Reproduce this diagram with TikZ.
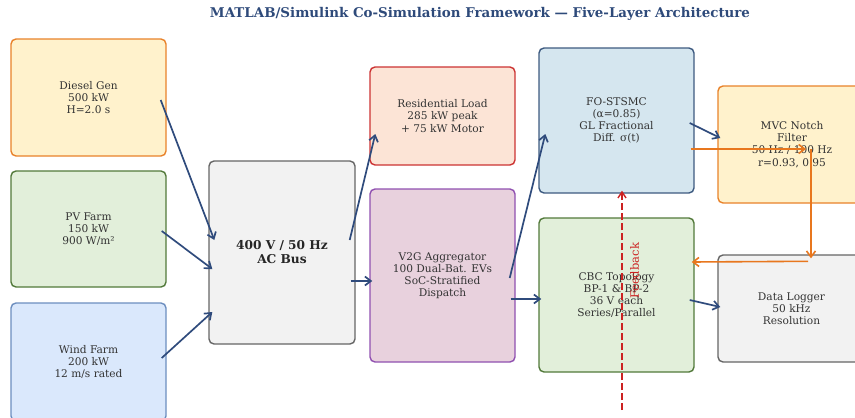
\documentclass[tikz,border=0pt]{standalone}
\usepackage{fontspec}
\setmainfont{DejaVu Serif}
\usetikzlibrary{arrows.meta,calc}

\definecolor{navy}{HTML}{2F4B7C}
\definecolor{titlecol}{HTML}{2E4A7A}
\definecolor{txt}{HTML}{333333}
\definecolor{orgline}{HTML}{E8822A}
\definecolor{orgfill}{HTML}{FFF2CC}
\definecolor{grnline}{HTML}{52793A}
\definecolor{grnfill}{HTML}{E2EFDA}
\definecolor{bluline}{HTML}{6C8EBF}
\definecolor{blufill}{HTML}{DAE8FC}
\definecolor{gryline}{HTML}{666666}
\definecolor{gryfill}{HTML}{F2F2F2}
\definecolor{redline}{HTML}{CC3333}
\definecolor{redfill}{HTML}{FCE4D6}
\definecolor{purline}{HTML}{9050B0}
\definecolor{purfill}{HTML}{E8D1DD}
\definecolor{ctlline}{HTML}{3D5A80}
\definecolor{ctlfill}{HTML}{D5E6EF}
\definecolor{orgarrow}{HTML}{E8771E}
\definecolor{fbred}{HTML}{CC2222}

\tikzset{
  block/.style={draw, rounded corners=5pt, line width=1.4pt, align=center,
    text=txt, font=\fontsize{10.6}{12.2}\selectfont, inner sep=0pt},
  flow/.style={draw=navy, line width=1.7pt, -{Straight Barb[length=6pt,width=9pt]}},
  sigflow/.style={draw=orgarrow, line width=1.6pt, -{Straight Barb[length=6pt,width=9pt]}},
  fbflow/.style={draw=fbred, line width=1.4pt, dash pattern=on 7pt off 3pt,
    -{Straight Barb[length=6pt,width=8pt]}},
}

\begin{document}
\begin{tikzpicture}[x=1pt,y=-1pt]
\useasboundingbox (0,0) rectangle (855,418);
\begin{scope}
\clip (0,0) rectangle (855,418);

% title
\node[text=titlecol, font=\fontsize{13.4}{16}\selectfont\bfseries] (title) at (480,14)
  {MATLAB/Simulink Co-Simulation Framework — Five-Layer Architecture};

% generation layer
\node[block, draw=orgline, fill=orgfill, minimum width=155pt, minimum height=117pt] (diesel) at (88.5,97.5)
  {Diesel Gen\\500 kW\\H=2.0 s};
\node[block, draw=grnline, fill=grnfill, minimum width=155pt, minimum height=116pt] (pv) at (88.5,229)
  {PV Farm\\150 kW\\900 W/m²};
\node[block, draw=bluline, fill=blufill, minimum width=155pt, minimum height=118pt] (wind) at (88.5,362)
  {Wind Farm\\200 kW\\12 m/s rated};

% bus
\node[block, draw=gryline, fill=gryfill, minimum width=146pt, minimum height=183pt,
  font=\fontsize{12.2}{14}\selectfont\bfseries, text=black!85] (bus) at (282,252.5)
  {400 V / 50 Hz\\AC Bus};

% loads and aggregator
\node[block, draw=redline, fill=redfill, minimum width=145pt, minimum height=98pt] (load) at (442.5,116)
  {Residential Load\\285 kW peak\\+ 75 kW Motor};
\node[block, draw=purline, fill=purfill, minimum width=145pt, minimum height=173pt] (v2g) at (442.5,275.5)
  {V2G Aggregator\\100 Dual-Bat. EVs\\SoC-Stratified\\Dispatch};

% control and converter
\node[block, draw=ctlline, fill=ctlfill, minimum width=155pt, minimum height=145pt] (ctrl) at (616.5,120.5)
  {FO-STSMC\\(α=0.85)\\GL Fractional\\Diff. σ(t)};
\node[block, draw=grnline, fill=grnfill, minimum width=155pt, minimum height=154pt] (cbc) at (616.5,295)
  {CBC Topology\\BP-1 \& BP-2\\36 V each\\Series/Parallel};

% filter and logger
\node[block, draw=orgline, fill=orgfill, minimum width=148pt, minimum height=117pt] (mvc) at (792,144.5)
  {MVC Notch\\Filter\\50 Hz / 100 Hz\\r=0.93, 0.95};
\node[block, draw=gryline, fill=gryfill, minimum width=147pt, minimum height=107pt] (logger) at (791.5,308.5)
  {Data Logger\\50 kHz\\Resolution};

% power flow
\draw[flow] ([shift={(-6,2.5)}]diesel.east) -- ([shift={(6,-12.5)}]bus.west);
\draw[flow] ([shift={(-5,2)}]pv.east) -- ([shift={(4,16.5)}]bus.west);
\draw[flow] ([shift={(-5,-4)}]wind.east) -- ([shift={(4,59.5)}]bus.west);
\draw[flow] ([shift={(-6,-12.5)}]bus.east) -- ([shift={(6,18)}]load.west);
\draw[flow] ([shift={(-5,28.5)}]bus.east) -- ([shift={(3,5.5)}]v2g.west);
\draw[flow] ([shift={(-6,2.5)}]v2g.east) -- ([shift={(7,13.5)}]ctrl.west);
\draw[flow] ([shift={(-5,23.5)}]v2g.east) -- ([shift={(3,4)}]cbc.west);
\draw[flow] ([shift={(-5,2.5)}]ctrl.east) -- ([shift={(3,-6.5)}]mvc.west);
\draw[flow] ([shift={(-5,5)}]cbc.east) -- ([shift={(3,-1.5)}]logger.west);

% signal path through the filter
\draw[sigflow] ([shift={(-4,28.5)}]ctrl.east) -- ([shift={(14,4.5)}]mvc.center);
\draw[sigflow] ([shift={(19,4.5)}]mvc.center) -- ([shift={(19.5,4)}]logger.north);
\draw[sigflow] ([shift={(16.5,7)}]logger.north) -- ([shift={(-3,-33)}]cbc.east);

% feedback
\coordinate (fbsrc) at (622,410);
\draw[fbflow] (fbsrc) -- ([shift={(5.5,-3)}]ctrl.south);
\node[text=fbred, rotate=90, font=\fontsize{11.5}{13}\selectfont] (fblabel) at (634.5,271) {Feedback};
\end{scope}
\end{tikzpicture}
\end{document}
